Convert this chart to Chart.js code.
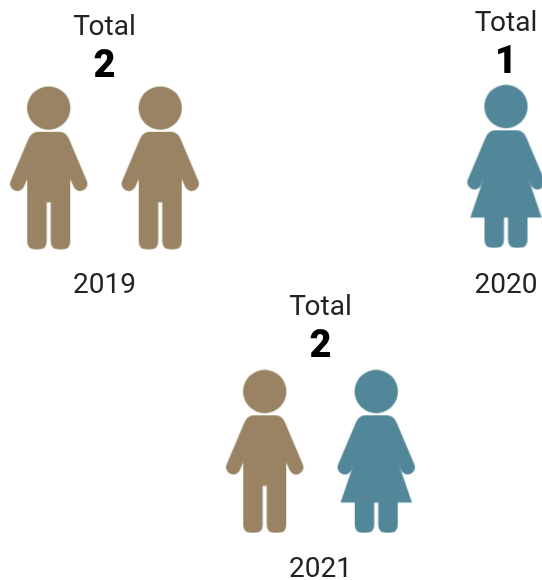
<!DOCTYPE html>
<html>
<head>
<meta charset="utf-8">
<script src="https://cdn.jsdelivr.net/npm/chart.js@4"></script>
<style>
  html, body { margin: 0; padding: 0; background: #fff; overflow: hidden; }
  body { width: 542px; height: 580px; position: relative; }
  canvas { position: absolute; }
</style>
</head>
<body>
<script>
var years = ['2019', '2020', '2021'];
var totals = [2, 1, 2];
var men = [2, 0, 1];
var women = [0, 1, 1];

// where each year's block sits on the page, gap is the space above the year label
var boxes = [
    { left: -7, top: 0, width: 223, height: 303, gap: 16 },
    { left: 450, top: -4, width: 112, height: 307, gap: 15 },
    { left: 209, top: 280, width: 223, height: 307, gap: 13 }
];

var MAN_COLOR = '#9a8363';
var WOMAN_COLOR = '#528699';
var TEXT_COLOR = '#222222';

// right half of the figure, head top is y=0 and the middle is x=0
function halfBody(ctx, dress) {
    ctx.beginPath();
    ctx.moveTo(-0.5, 45.5);
    ctx.lineTo(11, 45.5);
    ctx.quadraticCurveTo(17.5, 45.5, 20.5, 53);
    ctx.lineTo(38.05, 94.55);
    ctx.arc(31.5, 97.5, 7.2, -24 * Math.PI / 180, 156 * Math.PI / 180);
    if (dress) {
        ctx.lineTo(21.6, 91.5);
        ctx.lineTo(35.7, 132.8);
        ctx.lineTo(21.5, 132.8);
    } else {
        ctx.lineTo(21.5, 92.8);
    }
    ctx.lineTo(21.5, 155);
    ctx.quadraticCurveTo(21.5, 163, 13.5, 163);
    ctx.lineTo(10, 163);
    ctx.quadraticCurveTo(2, 163, 2, 155);
    ctx.lineTo(2, dress ? 132.8 : 116);
    ctx.lineTo(-0.5, dress ? 132.8 : 116);
    ctx.closePath();
    ctx.fill();
}

function makeIcon(color, dress) {
    var c = document.createElement('canvas');
    c.width = 81;
    c.height = 164;
    var ctx = c.getContext('2d');
    ctx.fillStyle = color;
    ctx.translate(40.5, 0.5);
    ctx.beginPath();
    ctx.arc(0, 21.7, 21.7, 0, Math.PI * 2);
    ctx.fill();
    halfBody(ctx, dress);
    ctx.scale(-1, 1);
    halfBody(ctx, dress);
    return c;
}

var manIcon = makeIcon(MAN_COLOR, false);
var womanIcon = makeIcon(WOMAN_COLOR, true);

years.forEach(function (year, i) {
    var box = boxes[i];
    var canvas = document.createElement('canvas');
    canvas.width = box.width;
    canvas.height = box.height;
    canvas.style.left = box.left + 'px';
    canvas.style.top = box.top + 'px';
    document.body.appendChild(canvas);

    var points = [];
    var icons = [];
    for (var m = 0; m < men[i]; m++) {
        points.push({ x: points.length + 1, y: 1 });
        icons.push(manIcon);
    }
    for (var w = 0; w < women[i]; w++) {
        points.push({ x: points.length + 1, y: 1 });
        icons.push(womanIcon);
    }

    new Chart(canvas, {
        type: 'scatter',
        data: {
            datasets: [{
                label: year,
                data: points,
                pointStyle: icons,
                clip: false
            }]
        },
        options: {
            responsive: false,
            animation: false,
            layout: { padding: 0, autoPadding: false },
            plugins: {
                legend: { display: false },
                tooltip: { enabled: false },
                title: {
                    display: true,
                    text: 'Total',
                    color: TEXT_COLOR,
                    font: { family: 'Roboto', size: 28, weight: 'normal' },
                    padding: { top: 11, bottom: 0 }
                },
                subtitle: {
                    display: true,
                    text: String(totals[i]),
                    color: '#000000',
                    font: { family: 'Roboto', size: 38, weight: '900' },
                    padding: { top: 0, bottom: 0 }
                }
            },
            scales: {
                x: {
                    type: 'linear',
                    min: 0.5,
                    max: totals[i] + 0.5,
                    grid: { display: false },
                    border: { display: false },
                    ticks: { display: false },
                    title: {
                        display: true,
                        text: year,
                        color: TEXT_COLOR,
                        font: { family: 'Roboto', size: 28, weight: 'normal' },
                        padding: { top: box.gap, bottom: 0 }
                    }
                },
                y: {
                    display: false,
                    min: 0,
                    max: 2
                }
            }
        }
    });
});
</script>
</body>
</html>
